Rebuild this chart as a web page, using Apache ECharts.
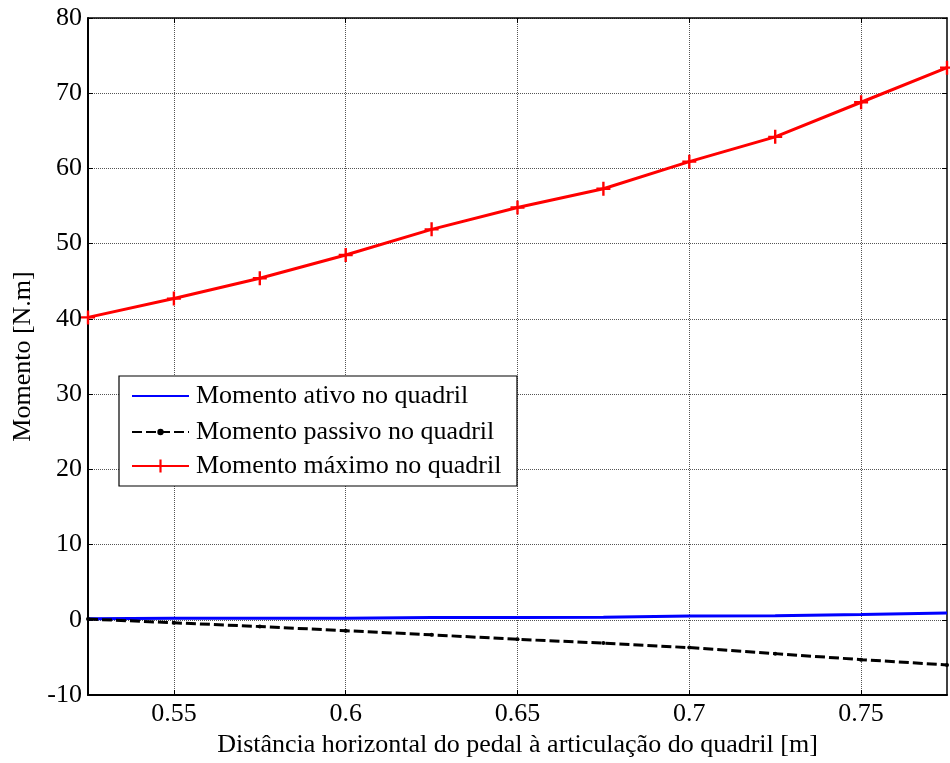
<!DOCTYPE html>
<html>
<head>
<meta charset="utf-8">
<script src="https://cdn.jsdelivr.net/npm/echarts@6/dist/echarts.min.js"></script>
<style>html,body{margin:0;padding:0;background:#fff}#c{width:950px;height:763px}</style>
</head>
<body>
<div id="c"></div>
<script>
const xValues = [0.525, 0.55, 0.575, 0.6, 0.625, 0.65, 0.675, 0.7, 0.725, 0.75, 0.775];
const ativo   = [0.15, 0.2, 0.2, 0.2, 0.3, 0.3, 0.35, 0.5, 0.55, 0.7, 0.9];
const passivo = [0.1, -0.4, -0.9, -1.45, -2.0, -2.6, -3.1, -3.7, -4.5, -5.3, -6.0];
const maximo  = [40.2, 42.7, 45.4, 48.5, 51.9, 54.8, 57.3, 60.9, 64.2, 68.8, 73.4];
const xTicks = [0.55, 0.6, 0.65, 0.7, 0.75];
const seriesNames = ['Momento ativo no quadril', 'Momento passivo no quadril', 'Momento máximo no quadril'];
const xTitle = 'Distância horizontal do pedal à articulação do quadril [m]';
const yTitle = 'Momento [N.m]';

const FONT = '"Liberation Serif", "Times New Roman", serif';
const FS = 26;
const pair = arr => xValues.map((x, i) => [x, arr[i]]);
const plus = 'path://M-1,-0.17L1,-0.17L1,0.17L-1,0.17Z M-0.17,-1L0.17,-1L0.17,1L-0.17,1Z';

const chart = echarts.init(document.getElementById('c'), null, {renderer: 'canvas'});
const tickStyle = {show: true, inside: true, length: 5, lineStyle: {color: '#000', width: 1}};
const gridLine = {show: true, lineStyle: {color: '#555', type: [1, 1], width: 1}};

function legendRow(name, center, itemHeight, extra) {
  return Object.assign({
    left: 131, top: center - FS / 2, orient: 'horizontal', padding: 0,
    itemWidth: 57, itemHeight: itemHeight, itemGap: 0, selectedMode: false,
    textStyle: {fontFamily: FONT, fontSize: FS, color: '#000', lineHeight: FS, padding: [0, 0, 0, 2]},
    data: [name], z: 10
  }, extra || {});
}

chart.setOption({
  animation: false,
  backgroundColor: '#fff',
  grid: {left: 88, right: 3, top: 18, bottom: 68, show: false, containLabel: false, outerBoundsMode: 'none'},
  xAxis: [{
    type: 'value', min: 0.525, max: 0.775, position: 'bottom',
    name: xTitle, nameLocation: 'middle', nameGap: 37,
    nameTextStyle: {fontFamily: FONT, fontSize: FS, color: '#000'},
    axisLine: {show: true, onZero: false, lineStyle: {color: '#000', width: 2}},
    axisTick: Object.assign({customValues: xTicks}, tickStyle),
    axisLabel: {customValues: xTicks, fontFamily: FONT, fontSize: FS, color: '#000', margin: 6,
      formatter: v => String(+v.toFixed(3))},
    splitLine: gridLine
  }, {
    type: 'value', min: 0.525, max: 0.775, position: 'top',
    axisLine: {show: true, onZero: false, lineStyle: {color: '#000', width: 1.5}},
    axisTick: Object.assign({customValues: xTicks}, tickStyle),
    axisLabel: {show: false}, splitLine: {show: false}
  }],
  yAxis: [{
    type: 'value', min: -10, max: 80, interval: 10, position: 'left',
    name: yTitle, nameLocation: 'middle', nameGap: 52,
    nameTextStyle: {fontFamily: FONT, fontSize: FS, color: '#000'},
    axisLine: {show: true, onZero: false, lineStyle: {color: '#000', width: 2}},
    axisTick: tickStyle,
    axisLabel: {fontFamily: FONT, fontSize: FS, color: '#000', margin: 6},
    splitLine: gridLine
  }, {
    type: 'value', min: -10, max: 80, interval: 10, position: 'right',
    axisLine: {show: true, onZero: false, lineStyle: {color: '#000', width: 1.5}},
    axisTick: tickStyle, axisLabel: {show: false}, splitLine: {show: false}
  }],
  graphic: [{
    type: 'rect', z: 9, silent: true,
    shape: {x: 119, y: 376, width: 398, height: 110},
    style: {fill: '#fff', stroke: '#000', lineWidth: 1.2}
  }],
  legend: [
    legendRow(seriesNames[0], 396, 14, {itemStyle: {opacity: 0}}),
    legendRow(seriesNames[1], 432, 8),
    legendRow(seriesNames[2], 466, 16)
  ],
  series: [{
    name: seriesNames[0], type: 'line', data: pair(ativo), symbol: 'none',
    lineStyle: {color: '#0000ff', width: 3}, itemStyle: {color: '#0000ff'}, z: 3
  }, {
    name: seriesNames[1], type: 'line', data: pair(passivo), symbol: 'circle', symbolSize: 4,
    lineStyle: {color: '#000', width: 3, type: [10, 4]}, itemStyle: {color: '#000'}, z: 3
  }, {
    name: seriesNames[2], type: 'line', data: pair(maximo), symbol: plus, symbolSize: 14,
    lineStyle: {color: '#ff0000', width: 3}, itemStyle: {color: '#ff0000'}, z: 3
  }]
});
</script>
</body>
</html>
